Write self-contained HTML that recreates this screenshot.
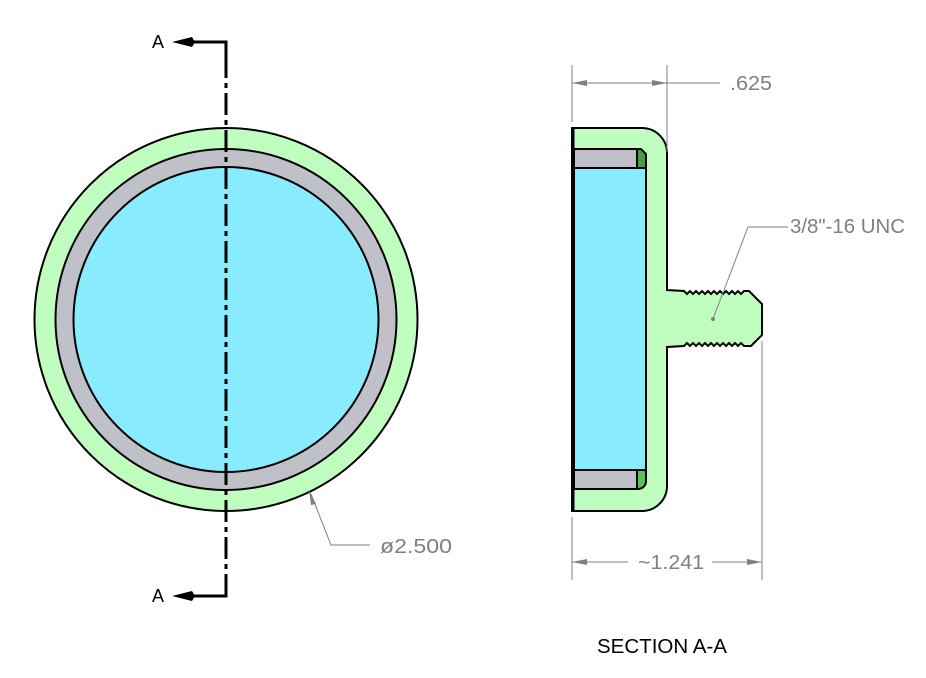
<!DOCTYPE html>
<html><head><meta charset="utf-8"><style>html,body{margin:0;padding:0;background:#fff}svg{display:block}</style></head>
<body>
<svg width="926" height="678" viewBox="0 0 926 678" xmlns="http://www.w3.org/2000/svg" font-family="Liberation Sans, sans-serif">
<circle cx="226" cy="319.5" r="191.5" fill="#c0fec0" stroke="#000" stroke-width="2"/>
<circle cx="226" cy="319.5" r="170.5" fill="#c0c0c8" stroke="#000" stroke-width="2"/>
<circle cx="226" cy="319.5" r="152.5" fill="#88ecfe" stroke="#000" stroke-width="2"/>
<polyline points="188,42 226,42 226,56" fill="none" stroke="#000" stroke-width="3"/>
<polyline points="188,596 226,596 226,582" fill="none" stroke="#000" stroke-width="3"/>
<line x1="226" y1="56" x2="226" y2="582" stroke="#000" stroke-width="3" stroke-dasharray="22,5,5,5"/>
<polygon points="172,42 192,37 195,42 192,47" fill="#000"/>
<polygon points="172,596 192,591 195,596 192,601" fill="#000"/>
<text x="152" y="48" font-size="18">A</text>
<text x="152" y="602" font-size="18">A</text>
<polyline points="311,494 331,545 370,545" fill="none" stroke="#808080" stroke-width="1"/>
<polygon points="309,490 316,504 311,505" fill="#808080"/>
<text x="380" y="553" font-size="20" fill="#808080" textLength="72" lengthAdjust="spacingAndGlyphs">ø2.500</text>
<path d="M572,128 L642,128 A25,25 0 0 1 667,153 L667,290 L684,291 L687,294 L690,291 L693,294 L696,291 L699,294 L702,291 L705,294 L708,291 L711,294 L714,291 L717,294 L720,291 L723,294 L726,291 L729,294 L732,291 L735,294 L738,291 L741,294 L744,291 L749,291 L762,304 L762,335 L751,346 L744,346 L741,343 L738,346 L735,343 L732,346 L729,343 L726,346 L723,343 L720,346 L717,343 L714,346 L711,343 L708,346 L705,343 L702,346 L699,343 L696,346 L693,343 L690,346 L687,343 L684,346 L667,347 L667,486 A25,25 0 0 1 642,511 L572,511 Z" fill="#c0fec0" stroke="#000" stroke-width="2"/>
<rect x="574" y="167" width="72" height="303" fill="#88ecfe" stroke="#000" stroke-width="2"/>
<rect x="574" y="149" width="63" height="19" fill="#c0c0c8" stroke="#000" stroke-width="2"/>
<path d="M637,149 L641,149 L646,154 L646,168 L637,168 Z" fill="#4a9a4a" stroke="#000" stroke-width="2"/>
<rect x="574" y="470" width="63" height="19" fill="#c0c0c8" stroke="#000" stroke-width="2"/>
<path d="M637,470 L646,470 L646,482 A8,8 0 0 1 638,489 L637,489 Z" fill="#5cc05c" stroke="#000" stroke-width="2"/>
<line x1="573" y1="128" x2="573" y2="511" stroke="#000" stroke-width="3"/>
<g stroke="#808080" stroke-width="1" fill="none">
<line x1="572" y1="65" x2="572" y2="122"/>
<line x1="667" y1="65" x2="667" y2="152"/>
<line x1="572" y1="83" x2="720" y2="83"/>
<line x1="572" y1="517" x2="572" y2="580"/>
<line x1="762" y1="341" x2="762" y2="580"/>
<line x1="572" y1="562" x2="628" y2="562"/>
<line x1="712" y1="562" x2="762" y2="562"/>
<polyline points="713,319 748,227 788,227"/>
</g>
<g fill="#808080">
<polygon points="572,83 587,80 587,86"/>
<polygon points="667,83 652,80 652,86"/>
<polygon points="572,562 587,559 587,565"/>
<polygon points="762,562 747,559 747,565"/>
<circle cx="713" cy="319" r="2"/>
</g>
<text x="730" y="90" font-size="20" fill="#808080" textLength="42" lengthAdjust="spacingAndGlyphs">.625</text>
<text x="638" y="569" font-size="20" fill="#808080" textLength="66" lengthAdjust="spacingAndGlyphs">~1.241</text>
<text x="790" y="233" font-size="20" fill="#808080" textLength="115" lengthAdjust="spacingAndGlyphs">3/8"-16 UNC</text>
<text x="597" y="653" font-size="20" fill="#000" textLength="130" lengthAdjust="spacingAndGlyphs">SECTION A-A</text>
</svg>
</body></html>
